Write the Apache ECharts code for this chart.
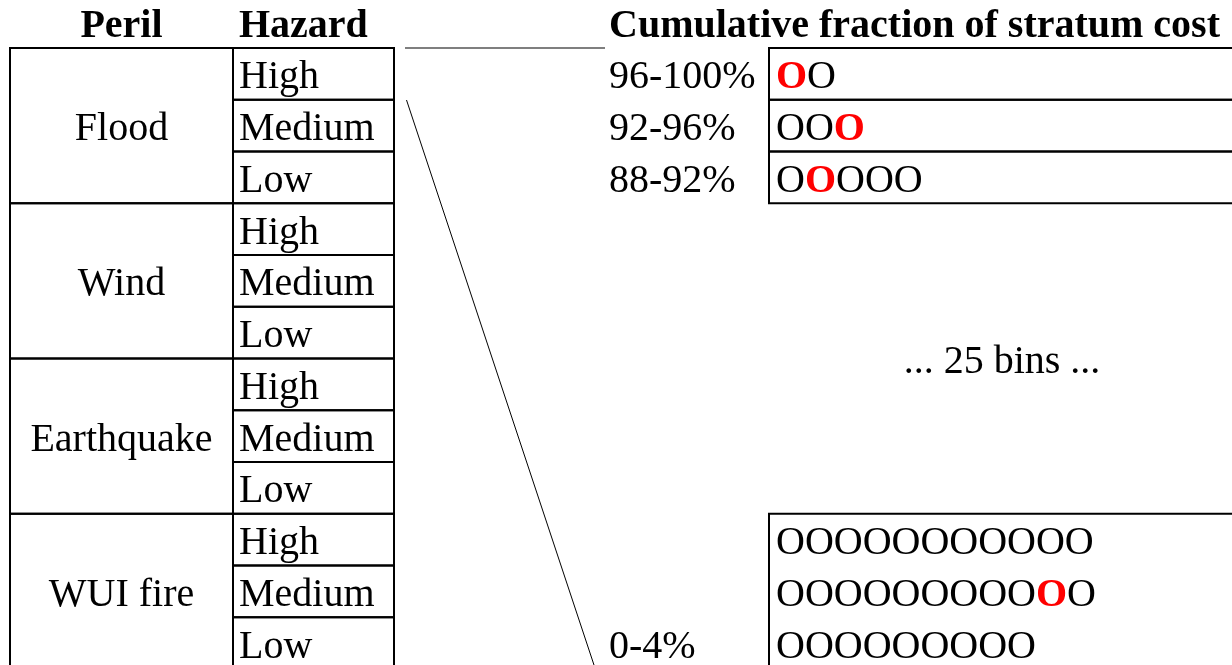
<!DOCTYPE html>
<html><head><meta charset="utf-8">
<script src="https://cdn.jsdelivr.net/npm/echarts@6/dist/echarts.min.js"></script>
<style>html,body{margin:0;padding:0;background:#fff;overflow:hidden}#c{width:1232px;height:665px}</style>
</head><body><div id="c"></div>
<script>
// ---- content ----
const perils = ['Flood', 'Wind', 'Earthquake', 'WUI fire'];
const hazards = ['High', 'Medium', 'Low'];
const headers = ['Peril', 'Hazard', 'Cumulative fraction of stratum cost'];
const topBinLabels = ['96-100%', '92-96%', '88-92%'];
const topBinCounts = [2, 3, 5];
const topBinRed = [0, 2, 1];
const bottomBinLabels = ['', '', '0-4%'];
const bottomBinCounts = [11, 11, 9];
const bottomBinRed = [-1, 9, -1];
const gapLabel = '... 25 bins ...';

// ---- layout (pixels / rows) ----
const W = 1232, H = 665;
const ROW0 = 48, ROWH = 51.75;
const X_PERIL_L = 10, X_PERIL_R = 233, X_HAZ_R = 394;
const X_BINLABEL = 609, X_BOX_L = 769, X_BOX_R = 1260, X_O = 776;
const FONT = 'Liberation Serif';
const FS = 40;
const nRows = perils.length * hazards.length;
const bottomStart = nRows - bottomBinLabels.length;

const perilData = perils.map((p, i) => [i * hazards.length, hazards.length]);
const hazardData = [];
perils.forEach((p, i) => hazards.forEach((h, j) => hazardData.push([i * hazards.length + j, j])));
const binRows = [];
topBinLabels.forEach((l, i) => binRows.push({ row: i, label: l, count: topBinCounts[i], red: topBinRed[i] }));
bottomBinLabels.forEach((l, i) => binRows.push({ row: bottomStart + i, label: l, count: bottomBinCounts[i], red: bottomBinRed[i] }));
const boxData = topBinLabels.map((l, i) => [i, 1]).concat([[bottomStart, bottomBinLabels.length]]);

function richO(count, red) {
  let s = '';
  for (let k = 0; k < count; k++) s += (k === red) ? '{r|O}' : '{n|O}';
  return s;
}

const txt = (o) => Object.assign({ fontFamily: FONT, fontSize: FS, fill: '#000', verticalAlign: 'middle' }, o);
const YOFF = 4;

const chart = echarts.init(document.getElementById('c'), null, { renderer: 'canvas' });
chart.setOption({
  animation: false,
  backgroundColor: '#fff',
  grid: { left: 0, right: 0, top: 0, bottom: 0 },
  xAxis: { type: 'value', min: 0, max: W, show: false },
  yAxis: { type: 'value', min: -ROW0 / ROWH, max: (H - ROW0) / ROWH, inverse: true, show: false },
  graphic: [
    { type: 'text', x: (X_PERIL_L + X_PERIL_R) / 2, y: 26.5, style: txt({ text: headers[0], fontWeight: 'bold', align: 'center' }) },
    { type: 'text', x: X_PERIL_R + 6, y: 26.5, style: txt({ text: headers[1], fontWeight: 'bold', align: 'left' }) },
    { type: 'text', x: X_BINLABEL, y: 26.5, style: txt({ text: headers[2], fontWeight: 'bold', align: 'left' }) },
    { type: 'line', shape: { x1: 405, y1: 48, x2: 605, y2: 48 }, style: { stroke: '#555', lineWidth: 1.5 } },
    { type: 'line', shape: { x1: 406.5, y1: 100, x2: 595, y2: 668 }, style: { stroke: '#000', lineWidth: 1 } }
  ],
  series: [
    {
      type: 'custom', data: perilData, silent: true,
      renderItem: (params, api) => {
        const r0 = api.value(0), n = api.value(1);
        const p1 = api.coord([X_PERIL_L, r0]), p2 = api.coord([X_PERIL_R, r0 + n]);
        return { type: 'group', children: [
          { type: 'rect', shape: { x: p1[0], y: p1[1], width: p2[0] - p1[0], height: p2[1] - p1[1] }, style: { fill: 'none', stroke: '#000', lineWidth: 2 } },
          { type: 'text', style: txt({ text: perils[params.dataIndex], x: (p1[0] + p2[0]) / 2, y: (p1[1] + p2[1]) / 2 + YOFF, align: 'center' }) }
        ] };
      }
    },
    {
      type: 'custom', data: hazardData, silent: true,
      renderItem: (params, api) => {
        const r = api.value(0), h = api.value(1);
        const p1 = api.coord([X_PERIL_R, r]), p2 = api.coord([X_HAZ_R, r + 1]);
        return { type: 'group', children: [
          { type: 'rect', shape: { x: p1[0], y: p1[1], width: p2[0] - p1[0], height: p2[1] - p1[1] }, style: { fill: 'none', stroke: '#000', lineWidth: 2 } },
          { type: 'text', style: txt({ text: hazards[h], x: p1[0] + 6, y: (p1[1] + p2[1]) / 2 + YOFF, align: 'left' }) }
        ] };
      }
    },
    {
      type: 'custom', data: boxData, silent: true,
      renderItem: (params, api) => {
        const r = api.value(0), n = api.value(1);
        const p1 = api.coord([X_BOX_L, r]), p2 = api.coord([X_BOX_R, r + n]);
        return { type: 'rect', shape: { x: p1[0], y: p1[1], width: p2[0] - p1[0], height: p2[1] - p1[1] }, style: { fill: 'none', stroke: '#000', lineWidth: 2 } };
      }
    },
    {
      type: 'custom', data: binRows.map(b => [b.row]), silent: true,
      renderItem: (params, api) => {
        const b = binRows[params.dataIndex];
        const r = api.value(0);
        const yc = api.coord([0, r + 0.5])[1] + YOFF;
        return { type: 'group', children: [
          { type: 'text', style: txt({ text: b.label, x: api.coord([X_BINLABEL, 0])[0], y: yc, align: 'left' }) },
          { type: 'text', style: txt({ text: richO(b.count, b.red), x: api.coord([X_O, 0])[0], y: yc, align: 'left',
              rich: { n: { fontFamily: FONT, fontSize: FS, fill: '#000', fontWeight: 'normal' }, r: { fontFamily: FONT, fontSize: FS, fill: '#ff0000', fontWeight: 'bold' } } }) }
        ] };
      }
    },
    {
      type: 'custom', data: [[topBinLabels.length, bottomStart]], silent: true,
      renderItem: (params, api) => {
        const a = api.value(0), b = api.value(1);
        const p = api.coord([1002, (a + b) / 2]);
        return { type: 'text', style: txt({ text: gapLabel, x: p[0], y: p[1] + YOFF, align: 'center' }) };
      }
    }
  ]
});
</script></body></html>
